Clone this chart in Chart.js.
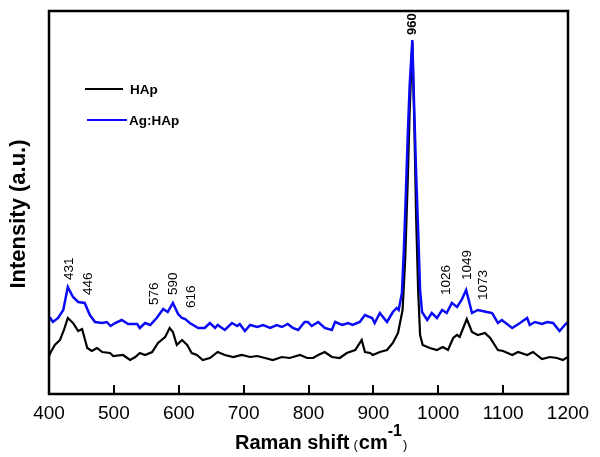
<!DOCTYPE html>
<html><head><meta charset="utf-8">
<script src="https://cdn.jsdelivr.net/npm/chart.js@4.4.0/dist/chart.umd.min.js"></script>
<style>html,body{margin:0;padding:0;background:#fff}#wrap{width:600px;height:457px;position:relative}</style>
</head><body><div id="wrap"><canvas id="c" width="600" height="457"></canvas></div>
<script>
// ---- data (Raman shift in cm-1, intensity in arbitrary units) ----
const hapShift = [400,402,409,417,423,429,437,445,451,459,466,474,482,494,499,514,525,533,540,548,559,568,579,586,591,597,605,613,620,628,637,648,660,671,684,697,710,721,733,745,759,771,787,798,807,815,825,836,848,859,872,882,887,895,899,910,921,930,938,945,949,953,956,960,963,966,969,972,976,987,998,1007,1015,1023,1029,1033,1044,1052,1061,1072,1080,1092,1100,1114,1123,1137,1146,1160,1172,1183,1192,1200];
const hapIntensity = [38,41,49,54,64,76,71,63,65,46,43,46,42,41,38,39,34,37,41,39,42,51,57,66,62,49,54,49,41,39,34,36,42,39,37,39,37,38,36,34,37,36,39,36,36,39,42,37,36,41,44,54,42,41,39,42,44,51,61,84,134,214,284,352,274,174,104,59,49,46,44,47,44,56,59,57,75,62,59,61,56,44,43,39,42,39,42,35,37,36,34,37];
const agShift = [400,402,406,414,422,429,437,445,455,463,471,482,489,495,502,512,522,536,540,548,556,566,576,583,591,599,605,610,617,630,640,648,656,660,671,682,690,694,702,710,721,730,741,751,759,768,776,784,794,799,805,815,825,836,841,852,861,868,879,887,898,902,910,921,930,936,939,944,947,950,953,956,960,963,966,969,972,975,983,990,998,1006,1013,1021,1029,1036,1043,1052,1061,1075,1083,1092,1098,1114,1126,1137,1141,1149,1160,1168,1177,1187,1195,1200];
const agIntensity = [76,76,72,76,84,107,97,92,91,79,72,71,72,68,71,74,70,70,66,71,69,76,85,82,91,80,76,75,71,66,66,71,66,69,64,71,68,70,63,69,67,69,66,69,67,70,66,64,72,72,68,72,66,64,72,69,71,69,72,79,76,71,81,72,82,86,84,101,144,199,259,309,354,284,219,164,104,82,74,81,76,84,81,91,87,94,104,81,84,82,81,71,74,66,71,76,69,72,70,72,71,63,69,72];
const seriesNames = ['HAp', 'Ag:HAp'];
const xTicks = [400,500,600,700,800,900,1000,1100,1200];
const peakLabels = ['431','446','576','590','616','960','1026','1049','1073'];
const peakLabelShift = [431,460,563,591,619,960,1013,1044,1069];
const peakLabelIntensity = [114,99,89,99,86,359,99,114,94];
const xTitle = ['Raman shift', '(', 'cm', '-1', ')'];
const yTitle = 'Intensity (a.u.)';

const BLACK = '#000000';
const BLUE = '#0a0af5';
const FONT = 'Arial, "Liberation Sans", sans-serif';

function toPoints(xs, ys){ return xs.map((v,i)=>({x:v, y:ys[i]})); }

const decor = {
  id: 'decor',
  afterDatasetsDraw(chart){
    const {ctx, chartArea:a, scales:{x, y}} = chart;
    ctx.save();
    // frame
    ctx.strokeStyle = '#000';
    ctx.lineWidth = 2.5;
    ctx.strokeRect(a.left, a.top, a.right - a.left, a.bottom - a.top);
    // inward ticks
    ctx.lineWidth = 2;
    xTicks.forEach(v => {
      const px = Math.round(x.getPixelForValue(v));
      ctx.beginPath(); ctx.moveTo(px, a.bottom); ctx.lineTo(px, a.bottom - 9); ctx.stroke();
    });
    // peak labels (rotated)
    ctx.fillStyle = '#000';
    ctx.textBaseline = 'middle';
    ctx.textAlign = 'left';
    peakLabels.forEach((t, i) => {
      const px = x.getPixelForValue(peakLabelShift[i]);
      const py = y.getPixelForValue(peakLabelIntensity[i]);
      ctx.save();
      ctx.translate(px, py);
      ctx.rotate(-Math.PI / 2);
      ctx.font = (t === '960' ? 'bold 13px ' : '13.5px ') + FONT;
      ctx.fillText(t, 0, 0);
      ctx.restore();
    });
    // legend
    const legendColors = [BLACK, BLUE];
    const legendY = [89, 120];
    const lineX = [[85,123],[87,127]];
    const textX = [130, 129];
    ctx.font = 'bold 13.5px ' + FONT;
    seriesNames.forEach((n, i) => {
      ctx.strokeStyle = legendColors[i];
      ctx.lineWidth = 2;
      ctx.beginPath(); ctx.moveTo(lineX[i][0], legendY[i]); ctx.lineTo(lineX[i][1], legendY[i]); ctx.stroke();
      ctx.fillStyle = '#000';
      ctx.textBaseline = 'middle';
      ctx.fillText(n, textX[i], legendY[i] + 1);
    });
    // x title
    ctx.fillStyle = '#000';
    ctx.textBaseline = 'alphabetic';
    ctx.textAlign = 'left';
    let cx = 235;
    const base = 449;
    ctx.font = 'bold 20px ' + FONT;
    ctx.fillText(xTitle[0], cx, base);
    cx += ctx.measureText(xTitle[0]).width + 4;
    ctx.font = '13px ' + FONT;
    ctx.fillText(xTitle[1], cx, base);
    cx += ctx.measureText(xTitle[1]).width + 1;
    ctx.font = 'bold 20px ' + FONT;
    ctx.fillText(xTitle[2], cx, base);
    cx += ctx.measureText(xTitle[2]).width;
    ctx.font = 'bold 16px ' + FONT;
    ctx.fillText(xTitle[3], cx, base - 13);
    cx += ctx.measureText(xTitle[3]).width + 1;
    ctx.font = '13px ' + FONT;
    ctx.fillText(xTitle[4], cx, base);
    // y title
    ctx.save();
    ctx.translate(19, 214);
    ctx.rotate(-Math.PI / 2);
    ctx.textAlign = 'center';
    ctx.textBaseline = 'middle';
    ctx.font = 'bold 22px ' + FONT;
    ctx.fillText(yTitle, 0, 0);
    ctx.restore();
    ctx.restore();
  }
};

new Chart(document.getElementById('c'), {
  type: 'line',
  data: {
    datasets: [
      { label: seriesNames[0], data: toPoints(hapShift, hapIntensity), borderColor: BLACK, borderWidth: 2.2, pointRadius: 0, tension: 0, fill: false, order: 1 },
      { label: seriesNames[1], data: toPoints(agShift, agIntensity), borderColor: BLUE, borderWidth: 2.5, pointRadius: 0, tension: 0, fill: false, order: 0 }
    ]
  },
  options: {
    responsive: false,
    animation: false,
    events: [],
    layout: { padding: { left: 49, right: 32, top: 11, bottom: 0 } },
    plugins: { legend: { display: false }, tooltip: { enabled: false } },
    scales: {
      x: {
        type: 'linear', min: 400, max: 1200,
        afterFit: s => { s.height = 63; },
        afterBuildTicks: s => { s.ticks = xTicks.map(v => ({ value: v })); },
        grid: { display: false, drawTicks: false },
        border: { display: false },
        ticks: { color: '#000', font: { family: FONT, size: 19 }, padding: 8, maxRotation: 0, autoSkip: false, callback: v => String(v) }
      },
      y: { display: false, min: 0, max: 383 }
    }
  },
  plugins: [decor]
});
</script></body></html>
